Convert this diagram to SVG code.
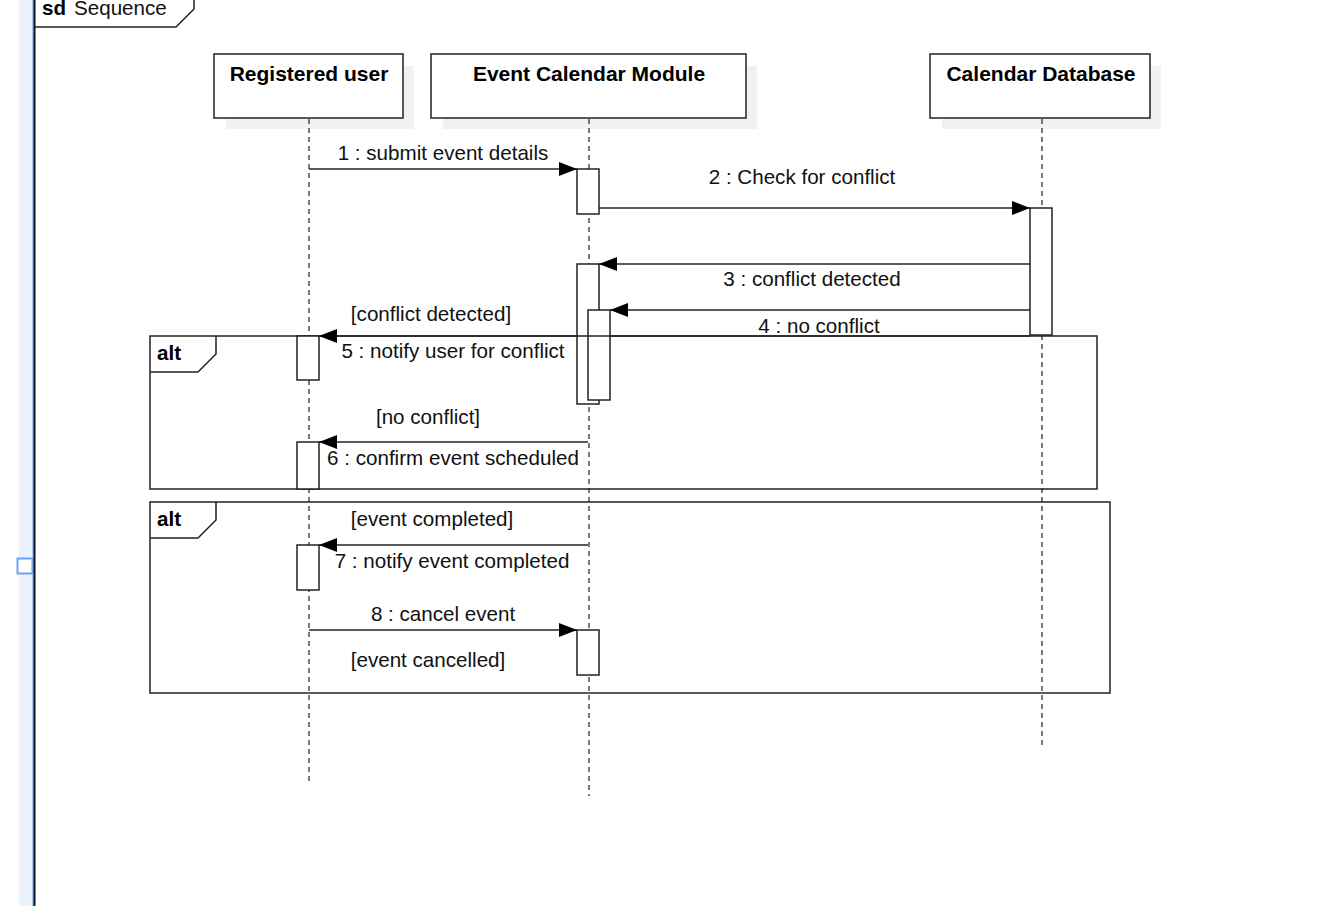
<svg xmlns="http://www.w3.org/2000/svg" width="1332" height="906" viewBox="0 0 1332 906">
  <style>
    .frame { fill: none; stroke: #222; stroke-width: 1.5; }
    .head { fill: #fff; stroke: #222; stroke-width: 1.5; }
    .shadow { fill: #f1f1f1; stroke: none; }
    .life { fill: none; stroke: #222; stroke-width: 1.2; stroke-dasharray: 5 4; }
    .act { fill: #fff; stroke: #222; stroke-width: 1.5; }
    .msg { fill: none; stroke: #222; stroke-width: 1.5; marker-end: url(#arrow); }
    .title { font-family: "Liberation Sans", Arial, sans-serif; font-size: 21px; font-weight: bold; fill: #000; text-anchor: middle; }
    .lbl { font-family: "Liberation Sans", Arial, sans-serif; font-size: 20.6px; fill: #111; text-anchor: middle; }
    .kw { font-family: "Liberation Sans", Arial, sans-serif; font-size: 20.6px; font-weight: bold; fill: #000; }
  </style>
  <defs>
    <marker id="arrow" viewBox="0 0 18 14" refX="18" refY="7" markerWidth="18" markerHeight="14" markerUnits="userSpaceOnUse" orient="auto">
      <path d="M0,0 L18,7 L0,14 Z" fill="#000"/>
    </marker>
  </defs>

  <rect width="1332" height="906" fill="#fff"/>

  <!-- selection band on the left edge -->
  <rect x="19" y="0" width="14" height="906" fill="#eaf2fd"/>
  <line x1="33" y1="0" x2="33" y2="906" stroke="#8fb3f2" stroke-width="1.5"/>
  <rect x="17.5" y="558.5" width="15" height="15" fill="#fff" stroke="#6ea0f5" stroke-width="2"/>

  <!-- sd frame -->
  <g id="sd-frame">
    <line x1="34.5" y1="0" x2="34.5" y2="906" stroke="#111" stroke-width="2"/>
    <path class="frame" d="M34.5,27 L176,27 L194,9 L194,0"/>
    <text x="42" y="15" class="kw">sd</text>
    <text x="74" y="15" class="lbl" style="text-anchor:start">Sequence</text>
  </g>

  <!-- lifelines -->
  <g id="registered-user">
    <rect class="shadow" x="226" y="66" width="188" height="63"/>
    <rect class="head" x="214" y="54" width="189" height="64"/>
    <text x="309" y="81" class="title">Registered user</text>
    <line class="life" x1="309" y1="119" x2="309" y2="783"/>
  </g>
  <g id="event-calendar-module">
    <rect class="shadow" x="443" y="66" width="314" height="63"/>
    <rect class="head" x="431" y="54" width="315" height="64"/>
    <text x="589" y="81" class="title">Event Calendar Module</text>
    <line class="life" x1="589" y1="119" x2="589" y2="796"/>
  </g>
  <g id="calendar-database">
    <rect class="shadow" x="942" y="66" width="219" height="63"/>
    <rect class="head" x="930" y="54" width="220" height="64"/>
    <text x="1041" y="81" class="title">Calendar Database</text>
    <line class="life" x1="1042" y1="119" x2="1042" y2="745"/>
  </g>

  <!-- combined fragments -->
  <g id="alt-conflict">
    <rect class="frame" x="150" y="336" width="947" height="153"/>
    <path class="frame" d="M150,372 L198,372 L216,354 L216,336"/>
    <text x="157" y="360" class="kw">alt</text>
  </g>
  <g id="alt-event">
    <rect class="frame" x="150" y="502" width="960" height="191"/>
    <path class="frame" d="M150,538 L198,538 L216,520 L216,502"/>
    <text x="157" y="526" class="kw">alt</text>
  </g>

  <!-- activations -->
  <g id="activations">
    <rect class="act" x="577" y="169" width="22" height="45"/>
    <rect class="act" x="1030" y="208" width="22" height="127"/>
    <rect class="act" x="577" y="264" width="22" height="140"/>
    <rect class="act" x="588" y="310" width="22" height="90"/>
    <rect class="act" x="297" y="336" width="22" height="44"/>
    <rect class="act" x="297" y="442" width="22" height="47"/>
    <rect class="act" x="297" y="545" width="22" height="45"/>
    <rect class="act" x="577" y="630" width="22" height="45"/>
  </g>

  <!-- messages -->
  <g id="connectors">
    <line class="msg" x1="309" y1="169" x2="577" y2="169"/>
    <line class="msg" x1="599" y1="208" x2="1030" y2="208"/>
    <line class="msg" x1="1030" y1="264" x2="599" y2="264"/>
    <line class="msg" x1="1030" y1="310" x2="610" y2="310"/>
    <line class="msg" x1="1030" y1="336" x2="319" y2="336"/>
    <line class="msg" x1="588" y1="442" x2="319" y2="442"/>
    <line class="msg" x1="588" y1="545" x2="319" y2="545"/>
    <line class="msg" x1="309" y1="630" x2="577" y2="630"/>
  </g>

  <!-- message labels -->
  <g id="labels">
    <text x="443" y="160" class="lbl">1 : submit event details</text>
    <text x="802" y="184" class="lbl">2 : Check for conflict</text>
    <text x="812" y="286" class="lbl">3 : conflict detected</text>
    <text x="819" y="333" class="lbl">4 : no conflict</text>
    <text x="431" y="321" class="lbl">[conflict detected]</text>
    <text x="453" y="358" class="lbl">5 : notify user for conflict</text>
    <text x="428" y="424" class="lbl">[no conflict]</text>
    <text x="453" y="465" class="lbl">6 : confirm event scheduled</text>
    <text x="432" y="526" class="lbl">[event completed]</text>
    <text x="452" y="568" class="lbl">7 : notify event completed</text>
    <text x="443" y="621" class="lbl">8 : cancel event</text>
    <text x="428" y="667" class="lbl">[event cancelled]</text>
  </g>
</svg>
